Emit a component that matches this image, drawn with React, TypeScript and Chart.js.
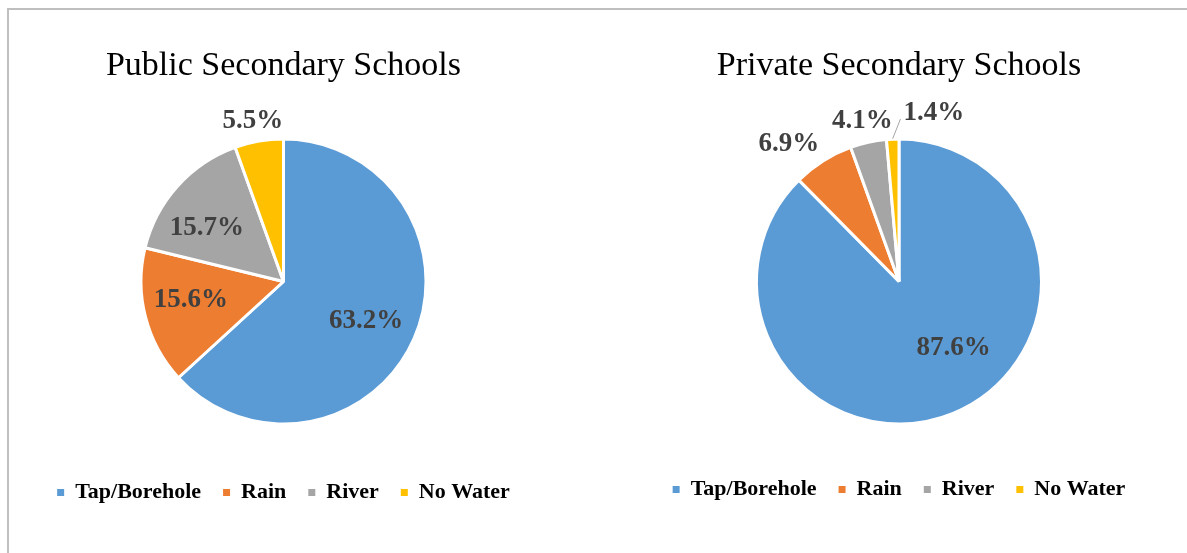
import React, { useEffect, useRef } from 'react';
import { Chart, registerables } from 'chart.js';

Chart.register(...registerables);

// ---- data ----
const categories = ['Tap/Borehole', 'Rain', 'River', 'No Water'];
const publicValues = [63.2, 15.6, 15.7, 5.5];
const privateValues = [87.6, 6.9, 4.1, 1.4];
const publicTitle = 'Public Secondary Schools';
const privateTitle = 'Private Secondary Schools';

// ---- styles ----
const sliceColors = ['#5B9BD5', '#ED7D31', '#A5A5A5', '#FFC000'];
const serif = '"Liberation Serif", "Times New Roman", serif';
const sliceBorder = 3;

// label placement: radial factor of the visible radius, angle tweak (deg), leader line
const publicLabelPlacement = [
  { f: 0.649, da: 1.8 },
  { f: 0.669, da: 3.1 },
  { f: 0.662, da: -7 },
  { f: 1.159, da: -0.9 },
];
const privateLabelPlacement = [
  { f: 0.61, da: -17 },
  { f: 1.248, da: -6.5 },
  { f: 1.167, da: -0.4 },
  { f: 1.22, da: 14.2, leader: true },
];

const labelPlugin = {
  id: 'sliceLabels',
  afterDatasetsDraw(chart: any, _args: any, opts: any) {
    const { ctx } = chart;
    const meta = chart.getDatasetMeta(0);
    const values = chart.data.datasets[0].data as number[];
    const placement = opts.placement || [];
    ctx.save();
    ctx.font = `bold 27px ${serif}`;
    ctx.fillStyle = '#404040';
    ctx.textAlign = 'center';
    ctx.textBaseline = 'middle';
    meta.data.forEach((arc: any, i: number) => {
      const p = arc.getProps(['x', 'y', 'startAngle', 'endAngle', 'outerRadius'], true);
      const pl = placement[i] || { f: 0.65, da: 0 };
      const r = p.outerRadius - sliceBorder / 2;
      const midBase = (p.startAngle + p.endAngle) / 2;
      const mid = midBase + (pl.da * Math.PI) / 180;
      const lx = p.x + Math.cos(mid) * r * pl.f;
      const ly = p.y + Math.sin(mid) * r * pl.f;
      const text = values[i].toFixed(1) + '%';
      ctx.fillText(text, lx, ly);
      if (pl.leader) {
        const w = ctx.measureText(text).width;
        ctx.save();
        ctx.strokeStyle = '#A6A6A6';
        ctx.lineWidth = 1;
        ctx.beginPath();
        ctx.moveTo(p.x + Math.cos(midBase) * (r + 2), p.y + Math.sin(midBase) * (r + 2));
        ctx.lineTo(lx - w / 2 - 3, ly + 6);
        ctx.stroke();
        ctx.restore();
      }
    });
    ctx.restore();
  },
};

type PieProps = {
  title: string;
  values: number[];
  placement: any[];
  left: number;
  width: number;
  titlePadBottom: number;
  legendPadBottom: number;
};

function PieChart({ title, values, placement, left, width, titlePadBottom, legendPadBottom }: PieProps) {
  const ref = useRef<HTMLCanvasElement>(null);
  useEffect(() => {
    if (!ref.current) return;
    const chart = new Chart(ref.current, {
      type: 'pie',
      data: {
        labels: categories,
        datasets: [
          {
            data: values,
            backgroundColor: sliceColors,
            borderColor: '#FFFFFF',
            borderWidth: sliceBorder,
            radius: 142.5,
          } as any,
        ],
      },
      options: {
        responsive: false,
        animation: false,
        layout: { padding: { top: 0, left: 0, right: 0, bottom: legendPadBottom } },
        plugins: {
          title: {
            display: true,
            text: title,
            color: '#000000',
            font: { family: serif, size: 34, weight: 'normal', lineHeight: 1.2 },
            padding: { top: 46, bottom: titlePadBottom },
          },
          legend: {
            position: 'bottom',
            labels: {
              boxWidth: 7,
              boxHeight: 7,
              padding: 22,
              color: '#000000',
              font: { family: serif, size: 22, weight: 'bold' },
              generateLabels: (c: any) =>
                (c.data.labels as string[]).map((l, i) => ({
                  text: l,
                  fillStyle: sliceColors[i],
                  strokeStyle: sliceColors[i],
                  lineWidth: 0,
                  hidden: false,
                  index: i,
                  fontColor: '#000000',
                })),
            },
          },
          tooltip: { enabled: false },
          sliceLabels: { placement },
        } as any,
      },
      plugins: [labelPlugin],
    });
    return () => chart.destroy();
  }, []);
  return (
    <canvas
      ref={ref}
      width={width}
      height={553}
      style={{ position: 'absolute', left, top: 0, width, height: 553 }}
    />
  );
}

export default function App() {
  return (
    <div
      style={{
        position: 'fixed',
        left: 0,
        top: 0,
        width: 1187,
        height: 553,
        overflow: 'hidden',
        background: '#FFFFFF',
      }}
    >
      <div
        style={{
          position: 'absolute',
          left: 7,
          top: 8,
          width: 1200,
          height: 600,
          borderTop: '2px solid #BFBFBF',
          borderLeft: '2px solid #BFBFBF',
        }}
      />
      <PieChart
        title={publicTitle}
        values={publicValues}
        placement={publicLabelPlacement}
        left={0}
        width={567}
        titlePadBottom={16.7}
        legendPadBottom={39.5}
      />
      <PieChart
        title={privateTitle}
        values={privateValues}
        placement={privateLabelPlacement}
        left={615}
        width={568}
        titlePadBottom={19.7}
        legendPadBottom={42.5}
      />
    </div>
  );
}
